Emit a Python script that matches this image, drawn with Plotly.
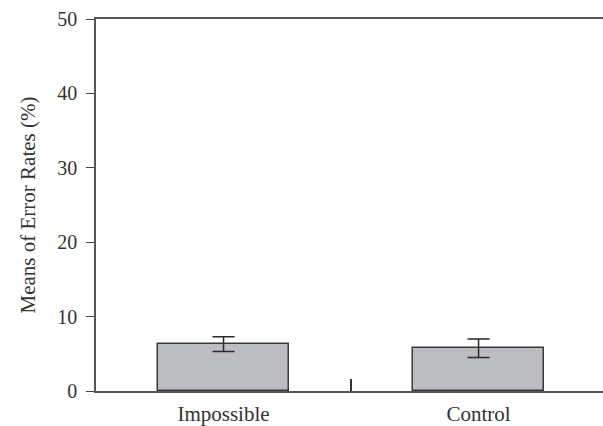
import plotly.graph_objects as go

categories = ["Impossible", "Control"]
means = [6.3, 5.75]
errors = [1.0, 1.25]
y_ticks = [0, 10, 20, 30, 40, 50]

x_pos = list(range(len(categories)))

fig = go.Figure()
fig.add_trace(go.Bar(
    x=x_pos, y=means, width=0.514,
    marker=dict(color="#bcbdc1", line=dict(color="#3a3a3a", width=1.5)),
    error_y=dict(type="data", array=errors, visible=True, color="#2a2a2a",
                 thickness=1.5, width=11),
    showlegend=False,
))

fam = "Liberation Serif, Times New Roman, serif"
tick_font = dict(family=fam, size=20, color="#333333")
label_font = dict(family=fam, size=21, color="#333333")

fig.update_layout(
    width=603, height=426,
    margin=dict(l=96, r=0, t=19, b=35),
    plot_bgcolor="white", paper_bgcolor="white",
    font=tick_font,
    bargap=0,
    xaxis=dict(
        range=[-0.5, 1.488],
        tickvals=x_pos, ticktext=categories, ticks="",
        showline=True, linecolor="#555555", linewidth=1.5, mirror=True,
        showgrid=False, zeroline=False, automargin=False,
        ticklabelstandoff=3,
        minor=dict(tickvals=[0.5], ticks="inside", ticklen=12, tickcolor="#333333", tickwidth=1.5),
        tickfont=label_font,
    ),
    yaxis=dict(
        range=[0, 50], tickvals=y_ticks,
        ticks="outside", ticklen=8, tickcolor="#444444", tickwidth=1.2,
        showline=True, linecolor="#555555", linewidth=1.5,
        showgrid=False, zeroline=False, automargin=False,
        ticklabelstandoff=5,
        title=dict(text="Means of Error Rates (%)", font=label_font, standoff=16),
        tickfont=tick_font,
    ),
)

fig.write_html(
    "out.html",
    config={"displayModeBar": False},
    post_script="document.body.style.margin='0';document.body.style.overflow='hidden';",
)
